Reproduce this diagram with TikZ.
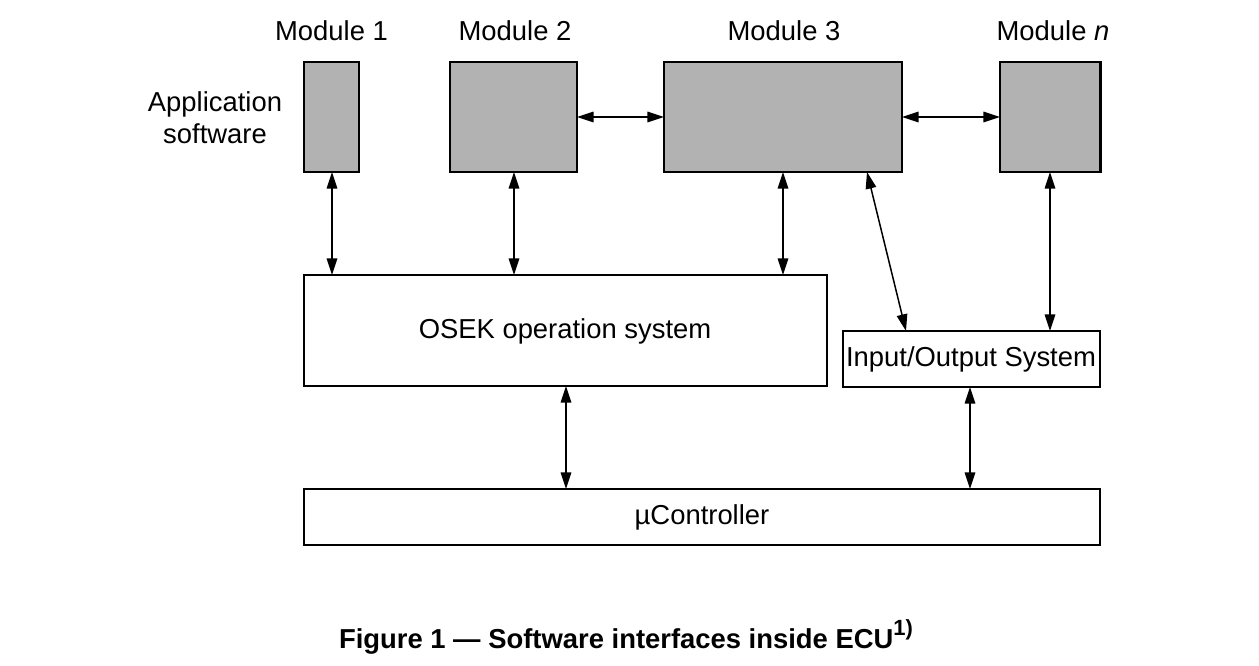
\documentclass[tikz,border=0pt]{standalone}
\usepackage{fontspec}
\setmainfont{Liberation Sans}
\usetikzlibrary{arrows.meta}
\begin{document}
\begin{tikzpicture}[x=0.02cm,y=-0.02cm,
  every node/.style={font=\fontsize{15.6pt}{18pt}\selectfont, inner sep=0pt},
  modbox/.style={draw=black, line width=1.7pt, fill=black!30},
  sysbox/.style={draw=black, line width=1.2pt, fill=white},
  link/.style={line width=0.85pt, {Triangle[length=9.5pt,width=6pt]}-{Triangle[length=9.5pt,width=6pt]}}]
\useasboundingbox (0,0) rectangle (1259,666);
% application modules
\draw[modbox] (304,62) rectangle (359,172);
\draw[modbox] (450,62) rectangle (577,172);
\draw[modbox] (664,62) rectangle (902,172);
\draw[modbox] (1000,62) rectangle (1100,172);
\coordinate (m1) at (332,172);
\coordinate (m2) at (514,172);
\coordinate (m3) at (783,172);
\coordinate (m3b) at (867,172);
\coordinate (mn) at (1050,172);
\coordinate (m2r) at (577,117);
\coordinate (m3l) at (664,117);
\coordinate (m3r) at (902,117);
\coordinate (mnl) at (1000,117);
\node (t1) at (331.5,31) {Module 1};
\node (t2) at (515,31) {Module 2};
\node (t3) at (784,31) {Module 3};
\node (tn) at (1053,31) {Module \textit{n}};
\node[align=center, font=\fontsize{15.6pt}{18pt}\selectfont] (app) at (215,118) {Application\\software};
% system layers
\draw[sysbox] (304,275) rectangle (827,386);
\node (os) at (565,331) {OSEK operation system};
\draw[sysbox] (843,331) rectangle (1100,387);
\node (io) at (971,359) {Input/Output System};
\draw[sysbox] (304,489) rectangle (1100,545);
\node (uc) at (702,517) {µController};
% interfaces
\draw[link] (m1) -- (332,275);
\draw[link] (m2) -- (514,275);
\draw[link] (m3) -- (783,275);
\draw[link] (m3b) -- (906,331);
\draw[link] (mn) -- (1050,331);
\draw[link] (m2r) -- (m3l);
\draw[link] (m3r) -- (mnl);
\draw[link] (566,386) -- (566,489);
\draw[link] (970,387) -- (970,489);
% caption
\node[font=\bfseries\fontsize{15.6pt}{18pt}\selectfont] (cap) at (626,637) {Figure 1 — Software interfaces inside ECU\raisebox{0.45em}{\fontsize{12.5pt}{14pt}\selectfont 1)}};
\end{tikzpicture}
\end{document}
